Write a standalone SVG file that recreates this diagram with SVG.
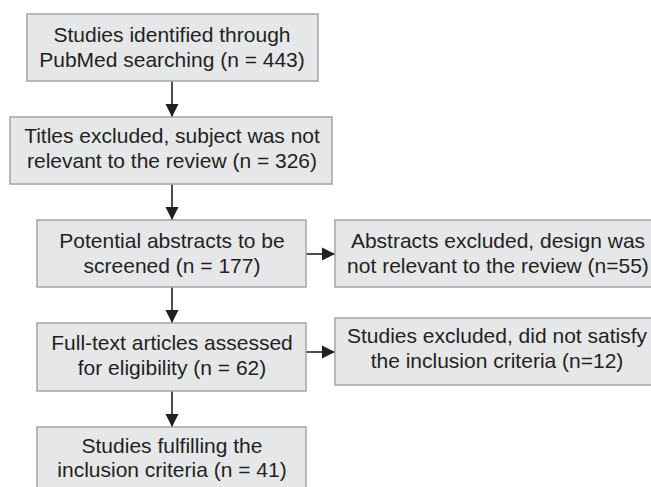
<svg xmlns="http://www.w3.org/2000/svg" width="651" height="487" viewBox="0 0 651 487">
<style>
.box{fill:#e6e7e8;stroke:#a7a9ac;stroke-width:1.6}
.t{font-family:"Liberation Sans",Arial,sans-serif;font-size:21px;fill:#231f20;text-anchor:middle}
.c{stroke:#231f20;stroke-width:1.6;fill:none;marker-end:url(#ah)}
</style>
<defs>
<marker id="ah" markerUnits="userSpaceOnUse" markerWidth="14" markerHeight="14" viewBox="0 0 14 14" refX="13" refY="7" orient="auto">
<path d="M0,0.5 L13,7 L0,13.5 Z" fill="#231f20"/>
</marker>
</defs>
<rect width="651" height="487" fill="#ffffff"/>
<g id="connectors">
<line class="c" x1="172" y1="81" x2="172" y2="117"/>
<line class="c" x1="172" y1="184" x2="172" y2="220"/>
<line class="c" x1="306" y1="254" x2="335" y2="254"/>
<line class="c" x1="172" y1="287" x2="172" y2="323"/>
<line class="c" x1="306" y1="352" x2="335" y2="352"/>
<line class="c" x1="172" y1="391" x2="172" y2="427"/>
</g>
<g id="n1">
<rect class="box" x="27" y="14" width="291" height="67"/>
<text class="t" x="172" y="42">Studies identified through</text>
<text class="t" x="172" y="67">PubMed searching (n = 443)</text>
</g>
<g id="n2">
<rect class="box" x="10" y="117" width="322" height="67"/>
<text class="t" x="172" y="143">Titles excluded, subject was not</text>
<text class="t" x="172" y="168">relevant to the review (n = 326)</text>
</g>
<g id="n3">
<rect class="box" x="37" y="220" width="269" height="67"/>
<text class="t" x="172" y="248">Potential abstracts to be</text>
<text class="t" x="172" y="273">screened (n = 177)</text>
</g>
<g id="n3r">
<rect class="box" x="335" y="220" width="330" height="67"/>
<text class="t" x="498" y="248">Abstracts excluded, design was</text>
<text class="t" x="498" y="273">not relevant to the review (n=55)</text>
</g>
<g id="n4">
<rect class="box" x="37" y="323" width="269" height="68"/>
<text class="t" x="172" y="350">Full-text articles assessed</text>
<text class="t" x="172" y="375">for eligibility (n = 62)</text>
</g>
<g id="n4r">
<rect class="box" x="335" y="318" width="330" height="67"/>
<text class="t" x="497" y="343">Studies excluded, did not satisfy</text>
<text class="t" x="497" y="368">the inclusion criteria (n=12)</text>
</g>
<g id="n5">
<rect class="box" x="37" y="427" width="269" height="70"/>
<text class="t" x="172" y="453">Studies fulfilling the</text>
<text class="t" x="172" y="477">inclusion criteria (n = 41)</text>
</g>
</svg>
